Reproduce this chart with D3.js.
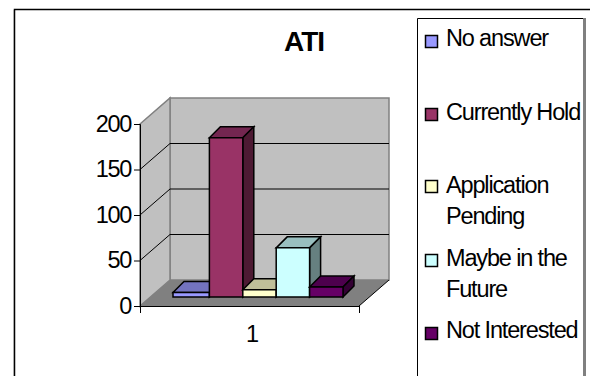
<!DOCTYPE html>
<html>
<head>
<meta charset="utf-8">
<script src="https://cdn.jsdelivr.net/npm/d3@7"></script>
<style>
html, body { margin: 0; padding: 0; background: #fff; }
svg { display: block; }
text { font-family: "Liberation Sans", Arial, sans-serif; fill: #000; }
</style>
</head>
<body>
<svg id="chart" width="590" height="376"></svg>
<script>
const title = "ATI";
const categoryLabels = ["1"];
const seriesNames = ["No answer", "Currently Hold", "Application Pending", "Maybe in the Future", "Not Interested"];
const seriesValues = [5, 175, 8, 54, 11];
const seriesColors = ["#9999ff", "#993366", "#ffffcc", "#ccffff", "#660066"];
const topColors = ["#7373bf", "#732650", "#bfbf99", "#99bfbf", "#4d004d"];
const sideColors = ["#4d4d80", "#4d1a33", "#808066", "#668080", "#330033"];
const legendLines = [["No answer"], ["Currently Hold"], ["Application", "Pending"], ["Maybe in the", "Future"], ["Not Interested"]];
const axisTicks = [0, 50, 100, 150, 200];

const svg = d3.select("#chart");

// Outer chart frame, open at the right and bottom edges of the page
svg.append("path").attr("d", "M14.5,376V9.5H590").attr("fill", "none").attr("stroke", "#000").attr("stroke-width", 1.5);
svg.append("line").attr("x1", 13.5).attr("x2", 13.5).attr("y1", 10).attr("y2", 376).attr("stroke", "#a8a8a8");

svg.append("text").attr("x", 304).attr("y", 50.5).attr("text-anchor", "middle")
  .attr("font-size", 28).attr("font-weight", "bold").attr("letter-spacing", -1).text(title);

// Front plane of the plot box and the shift to its back plane
const y = d3.scaleLinear().domain([0, 200]).range([306, 124]);
const x = d3.scaleBand().domain(categoryLabels).range([140, 359]);
const x0 = x(categoryLabels[0]), x1 = x0 + x.bandwidth();
const depthX = 30, depthY = -26;

const poly = (pts, fill, stroke, sw) => svg.append("polygon")
  .attr("points", pts.map(p => p.join(",")).join(" "))
  .attr("fill", fill).attr("stroke", stroke || "none").attr("stroke-width", sw || 1);

// Walls and floor
poly([[x0 + depthX, y(200) + depthY], [x1 + depthX, y(200) + depthY], [x1 + depthX, y(0) + depthY], [x0 + depthX, y(0) + depthY]], "#c0c0c0", "#808080", 1.5);
poly([[x0, y(200)], [x0 + depthX, y(200) + depthY], [x0 + depthX, y(0) + depthY], [x0, y(0)]], "#c0c0c0", "#808080", 1.5);
poly([[x0, y(0)], [x0 + depthX, y(0) + depthY], [x1 + depthX, y(0) + depthY], [x1, y(0)]], "#808080");

// Gridlines across the side wall and the back wall
axisTicks.filter(t => t > 0 && t < 200).forEach(t => {
  svg.append("path")
    .attr("d", `M${x0},${y(t)}L${x0 + depthX},${y(t) + depthY}L${x1 + depthX},${y(t) + depthY}`)
    .attr("fill", "none").attr("stroke", "#000").attr("stroke-width", 1);
});

// Value axis and category axis on the front plane
const yAxis = svg.append("g").attr("transform", `translate(${x0},0)`)
  .call(d3.axisLeft(y).tickValues(axisTicks).tickSize(6).tickPadding(3));
yAxis.selectAll("text").attr("font-size", 23.5).attr("letter-spacing", -1.3).style("font-family", '"Liberation Sans"').attr("dy", "0.3em");
yAxis.selectAll("line,path").attr("stroke", "#000").attr("stroke-width", 1);

svg.append("path").attr("d", `M${x0},${y(0) + 0.5}H${x1}M${x0 + 0.5},${y(0)}v7M${x1 + 0.5},${y(0)}v7M${x1},${y(0)}L${x1 + depthX},${y(0) + depthY}`)
  .attr("fill", "none").attr("stroke", "#000").attr("stroke-width", 1);
svg.append("text").attr("x", x0 + x.bandwidth() / 2 + 3).attr("y", 342).attr("text-anchor", "middle").attr("font-size", 23.5).text(categoryLabels[0]);

// Clustered 3D columns
const barX = d3.scaleBand().domain(seriesNames).range([176, 343]);
const barBase = 297, barDX = 11, barDY = -11;
const unit = y(0) - y(1);
seriesNames.forEach((name, i) => {
  const bx0 = i === 0 ? 173 : barX(name), bx1 = barX(name) + barX.bandwidth();
  const h = seriesValues[i] * unit, top = barBase - h;
  poly([[bx0, top], [bx0 + barDX, top + barDY], [bx1 + barDX, top + barDY], [bx1, top]], topColors[i], "#000", 1.5);
  poly([[bx1, top], [bx1 + barDX, top + barDY], [bx1 + barDX, barBase + barDY], [bx1, barBase]], sideColors[i], "#000", 1.5);
  poly([[bx0, top], [bx1, top], [bx1, barBase], [bx0, barBase]], seriesColors[i], "#000", 1.5);
});

// Legend box with its drop edge on the right
svg.append("path").attr("d", "M417.5,376V18.5H584").attr("fill", "#fff").attr("stroke", "#000").attr("stroke-width", 1);
svg.append("line").attr("x1", 584.5).attr("x2", 584.5).attr("y1", 18).attr("y2", 376).attr("stroke", "#808080").attr("stroke-width", 3);

const swatchTops = [35, 108, 180, 254, 327];
const legendBaselines = [46, 120, 193, 266, 338];
const legendLineGap = 31;
legendLines.forEach((lines, i) => {
  svg.append("rect").attr("x", 425.5).attr("y", swatchTops[i] + 0.5).attr("width", 12).attr("height", 12)
    .attr("fill", seriesColors[i]).attr("stroke", "#000").attr("stroke-width", 1.5);
  lines.forEach((line, j) => {
    svg.append("text").attr("x", 446).attr("y", legendBaselines[i] + j * legendLineGap)
      .attr("font-size", 23.5).attr("letter-spacing", -1.15).text(line);
  });
});
</script>
</body>
</html>
